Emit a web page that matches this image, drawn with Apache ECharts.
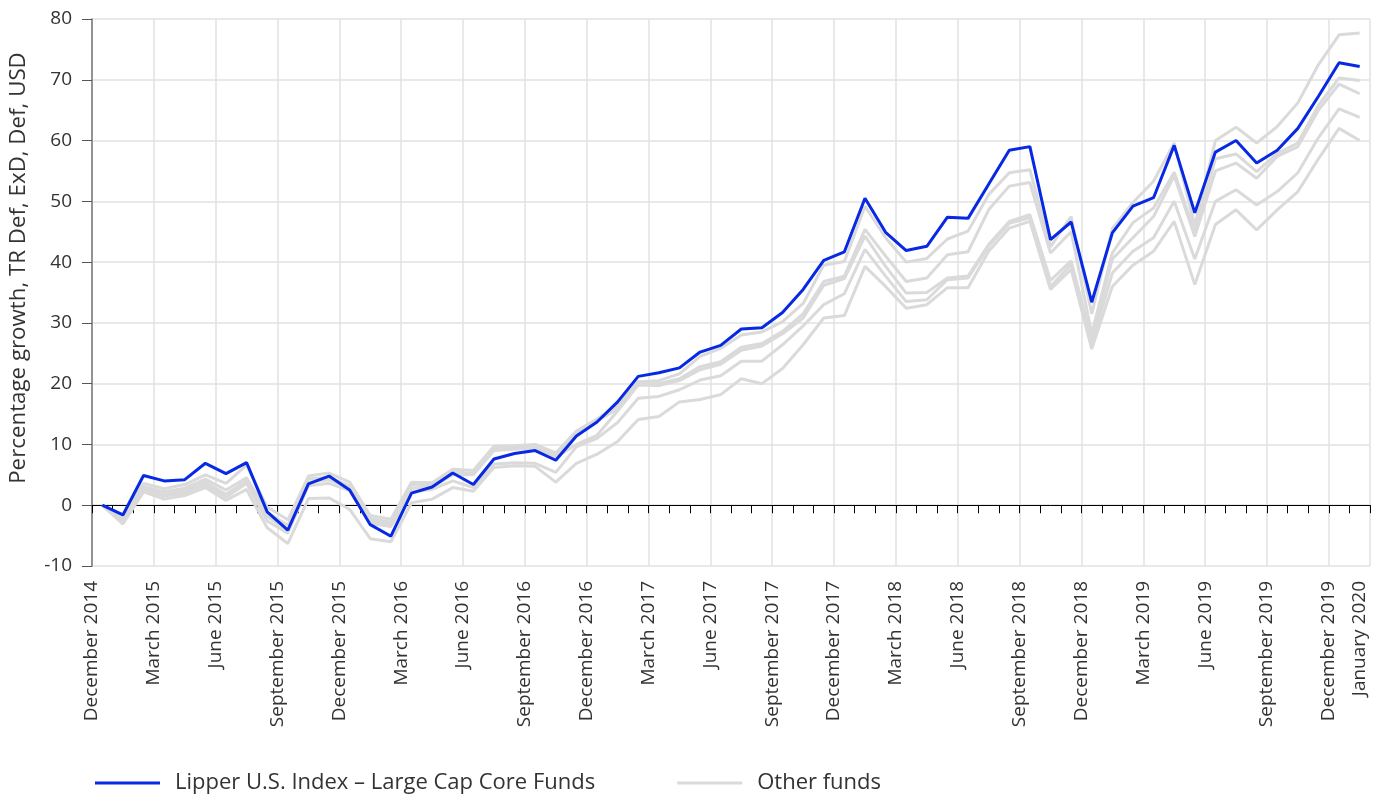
<!DOCTYPE html>
<html><head><meta charset="utf-8">
<script src="https://cdn.jsdelivr.net/npm/echarts@6/dist/echarts.min.js"></script>
<style>html,body{margin:0;padding:0;background:#fff}#c{width:1378px;height:797px}</style>
</head><body><div id="c"></div>
<script>
const months = [
  'December 2014','January 2015','February 2015','March 2015','April 2015','May 2015','June 2015','July 2015','August 2015','September 2015','October 2015','November 2015',
  'December 2015','January 2016','February 2016','March 2016','April 2016','May 2016','June 2016','July 2016','August 2016','September 2016','October 2016','November 2016',
  'December 2016','January 2017','February 2017','March 2017','April 2017','May 2017','June 2017','July 2017','August 2017','September 2017','October 2017','November 2017',
  'December 2017','January 2018','February 2018','March 2018','April 2018','May 2018','June 2018','July 2018','August 2018','September 2018','October 2018','November 2018',
  'December 2018','January 2019','February 2019','March 2019','April 2019','May 2019','June 2019','July 2019','August 2019','September 2019','October 2019','November 2019',
  'December 2019','January 2020'
];
const tickLabels = [
  'December 2014','March 2015','June 2015','September 2015','December 2015','March 2016','June 2016','September 2016',
  'December 2016','March 2017','June 2017','September 2017','December 2017','March 2018','June 2018','September 2018',
  'December 2018','March 2019','June 2019','September 2019','December 2019','January 2020'
];
const yMin = -10, yMax = 80, yStep = 10;

const lipper = [0, -1.6, 4.9, 4.0, 4.2, 6.9, 5.2, 7.0, -1.1, -4.1, 3.5, 4.8, 2.5, -3.2, -5.1, 2.0, 3.0, 5.3, 3.4, 7.6,
  8.5, 9.0, 7.4, 11.4, 13.7, 17.0, 21.2, 21.8, 22.6, 25.2, 26.3, 29.0, 29.2, 31.7, 35.5, 40.3, 41.7, 50.5, 44.9, 41.9,
  42.6, 47.4, 47.2, 52.8, 58.4, 59.0, 43.7, 46.6, 33.4, 44.8, 49.2, 50.6, 59.2, 48.1, 58.1, 60.0, 56.3, 58.4, 62.0, 67.3,
  72.8, 72.2];
const fundA = [0, -2.0, 3.6, 2.7, 3.4, 5.0, 3.6, 6.6, -0.3, -2.4, 4.8, 5.3, 3.8, -1.7, -2.3, 3.8, 3.7, 5.9, 5.7, 9.7,
  9.8, 10.0, 8.6, 12.2, 14.2, 16.4, 20.3, 20.5, 21.6, 24.5, 25.8, 28.0, 28.5, 30.2, 33.2, 39.5, 40.1, 49.2, 44.0, 40.0,
  40.6, 43.8, 45.1, 51.1, 54.7, 55.2, 42.5, 47.5, 31.5, 45.5, 49.8, 53.3, 59.6, 46.0, 60.0, 62.2, 59.6, 62.3, 66.2, 72.5,
  77.4, 77.7];
const fundB = [0, -2.3, 3.1, 2.2, 2.8, 4.3, 2.5, 4.5, -1.2, -3.3, 4.3, 4.6, 3.2, -2.2, -2.8, 3.4, 3.3, 5.5, 5.2, 9.3,
  9.5, 9.7, 8.2, 11.9, 13.9, 15.8, 20.0, 20.0, 20.8, 22.8, 23.6, 26.0, 26.6, 28.6, 31.5, 36.8, 37.7, 45.4, 41.0, 36.8,
  37.4, 41.2, 41.7, 48.6, 52.5, 53.1, 41.5, 45.0, 28.2, 41.5, 46.5, 48.9, 54.8, 45.0, 57.0, 57.8, 54.9, 57.9, 59.6, 65.8,
  70.3, 69.9];
const fundC = [0, -2.6, 2.7, 1.8, 2.4, 3.8, 1.8, 4.0, -1.8, -4.2, 3.8, 4.2, 2.8, -2.6, -3.2, 2.8, 3.0, 5.0, 5.0, 9.0,
  9.2, 9.4, 7.9, 10.0, 11.5, 15.5, 19.8, 19.7, 20.5, 22.3, 23.2, 25.5, 26.2, 28.2, 30.8, 36.2, 37.3, 44.3, 39.3, 34.9,
  35.0, 37.4, 37.7, 42.9, 46.7, 47.8, 37.0, 40.2, 27.2, 40.5, 44.0, 47.5, 54.2, 44.2, 55.0, 56.3, 53.8, 57.4, 59.0, 65.0,
  69.3, 67.7];
const fundD = [0, -2.9, 2.5, 1.5, 2.0, 3.4, 1.3, 3.6, -2.6, -4.6, 3.2, 3.6, 2.4, -3.0, -3.5, 2.2, 2.6, 4.0, 2.9, 6.8,
  7.0, 6.9, 5.4, 9.6, 11.0, 13.6, 17.6, 17.9, 19.0, 20.6, 21.3, 23.7, 23.7, 26.4, 29.5, 33.0, 34.8, 42.1, 37.7, 33.5,
  33.8, 37.1, 37.4, 42.6, 46.4, 47.3, 36.0, 39.6, 26.5, 38.2, 41.8, 44.0, 50.0, 40.5, 50.0, 51.9, 49.4, 51.6, 54.7, 60.5,
  65.2, 63.8];
const fundE = [0, -3.1, 2.2, 1.0, 1.6, 2.9, 0.8, 2.6, -3.7, -6.3, 1.1, 1.2, -0.7, -5.5, -6.0, 0.4, 1.0, 2.9, 2.3, 6.2,
  6.5, 6.4, 3.8, 6.9, 8.4, 10.5, 14.1, 14.6, 17.0, 17.4, 18.2, 20.8, 20.0, 22.5, 26.4, 30.8, 31.2, 39.3, 36.0, 32.4,
  33.0, 35.8, 35.8, 41.8, 45.6, 46.7, 35.5, 38.8, 25.7, 36.0, 39.5, 41.8, 46.7, 36.3, 46.2, 48.6, 45.3, 48.6, 51.6, 57.0,
  62.0, 60.0];

const MAIN = 'Lipper U.S. Index \u2013 Large Cap Core Funds';
const OTHER = 'Other funds';
const BLUE = '#0829e3';
const GREY = '#dadada';
const FONT = '"Open Sans", Lato, sans-serif';

// label axis: half-band resolution; labels sit on month boundaries, last month at its band centre
const labelAxisData = [];
for (let p = 0; p <= 2 * months.length; p++) {
  let name = '';
  if (p % 2 === 0) {
    const k = p / 2;
    if (k < months.length - 1 && tickLabels.includes(months[k])) name = months[k];
  } else {
    const k = (p - 1) / 2;
    if (k === months.length - 1 && tickLabels.includes(months[k])) name = months[k];
  }
  labelAxisData.push(name);
}

const others = [fundA, fundB, fundC, fundD, fundE].map(d => ({
  name: OTHER, type: 'line', data: d, xAxisIndex: 0, symbol: 'none', silent: true,
  lineStyle: { color: GREY, width: 3 }, itemStyle: { color: GREY }, z: 2
}));

const chart = echarts.init(document.getElementById('c'));
chart.setOption({
  animation: false,
  textStyle: { fontFamily: FONT },
  grid: { left: 92, right: 8, top: 19, bottom: 231, containLabel: false },
  legend: {
    data: [MAIN, OTHER], left: 90, top: 767, icon: 'rect', itemWidth: 65, itemHeight: 3, itemGap: 82,
    textStyle: { fontSize: 22, color: '#333', fontFamily: FONT, padding: [0, 0, 0, 10] }
  },
  xAxis: [
    {
      type: 'category', data: months, boundaryGap: true,
      axisLine: { show: true, onZero: true, lineStyle: { color: '#000', width: 1 } },
      axisTick: { show: true, interval: 0, length: 8, lineStyle: { color: '#000' } },
      axisLabel: { show: false },
      splitLine: { show: true, interval: (i) => i % 3 === 0, lineStyle: { color: '#e2e2e2', width: 1.5 } }
    },
    {
      type: 'category', data: labelAxisData, boundaryGap: false, position: 'bottom',
      axisLine: { show: false, onZero: false }, axisTick: { show: false }, splitLine: { show: false },
      axisLabel: {
        interval: (i, v) => v !== '', rotate: 90, fontSize: 19, color: '#333', margin: 15,
        fontFamily: FONT, verticalAlign: 'middle', padding: [0, 0, 8, 0]
      }
    }
  ],
  yAxis: {
    type: 'value', min: yMin, max: yMax, interval: yStep,
    name: 'Percentage growth, TR Def, ExD, Def, USD', nameLocation: 'middle', nameRotate: 90, nameGap: 62,
    nameTextStyle: { fontSize: 22.3, color: '#333', fontFamily: FONT, padding: [0, 0, 0, 49] },
    axisLine: { show: true, onZero: false, lineStyle: { color: '#777', width: 1.5 } },
    axisTick: { show: true, length: 10, lineStyle: { color: '#555' } },
    axisLabel: { fontSize: 19, color: '#333', margin: 20, fontFamily: FONT },
    splitLine: { show: true, lineStyle: { color: '#e2e2e2', width: 1.5 } }
  },
  series: others.concat([{
    name: MAIN, type: 'line', data: lipper, xAxisIndex: 0, symbol: 'none', silent: true,
    lineStyle: { color: BLUE, width: 3 }, itemStyle: { color: BLUE }, z: 3
  }])
});
</script>
</body></html>
